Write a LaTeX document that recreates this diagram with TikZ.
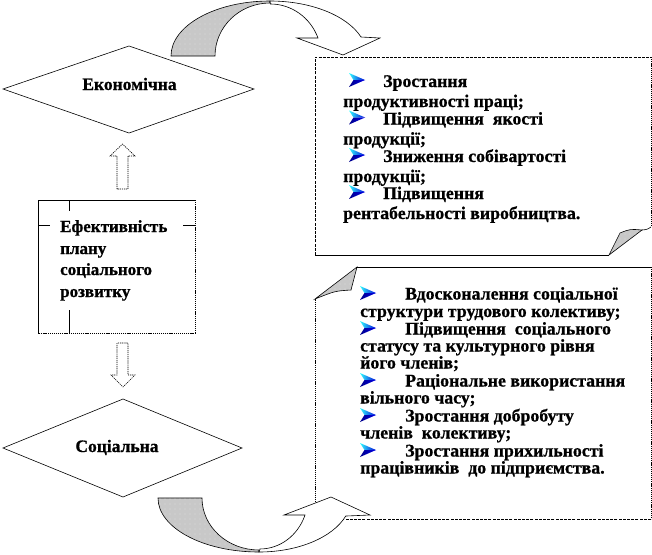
\documentclass[tikz,border=0pt]{standalone}
\usepackage{fontspec}
\setmainfont{Liberation Serif}[BoldFeatures={FakeBold=0.8}]
\usetikzlibrary{patterns.meta}
\definecolor{shadegray}{RGB}{200,200,200}
\tikzset{
  lbl/.style={font=\fontsize{17}{20}\selectfont\bfseries, inner sep=0pt, anchor=base west},
  blbl/.style={font=\fontsize{17.8}{20}\selectfont\bfseries, inner sep=0pt, anchor=base west},
  ctr/.style={font=\fontsize{17.5}{20}\selectfont\bfseries, inner sep=0pt, anchor=base},
  thin line/.style={line width=0.6pt, draw=black},
  dashline/.style={line width=0.6pt, dash pattern=on 3pt off 1.2pt},
  dotline/.style={line width=0.6pt, dash pattern=on 1.2pt off 0.9pt},
  ribbon/.style={fill=shadegray, postaction={pattern={Dots[distance=5pt, radius=0.45pt]}, pattern color=white}},
  bul/.pic={
    \shade[left color=cyan!80!white, right color=blue!85!black] (0,-7) -- (16,0) -- (4.5,0) -- cycle;
    \shade[left color=blue!55!black, right color=blue!90!black] (4.5,0) -- (16,0) -- (0,7) -- cycle;
  }
}
\begin{document}
\begin{tikzpicture}[x=1pt,y=-1pt]
\useasboundingbox (0,0) rectangle (652,554);
\fill[white] (0,0) rectangle (652,554);

% ---------- diamonds ----------
\draw[thin line] (3,89) -- (129,46) -- (254,89) -- (129,133) -- cycle;
\node[ctr] (eco) at (129.5,90) {Економічна};
\draw[thin line] (3,448) -- (123,399) -- (242,448) -- (123,497) -- cycle;
\node[ctr] (soc) at (117,452) {Соціальна};

% ---------- block arrows ----------
\draw[dotline] (117,189) -- (117,156) -- (110,156) -- (122.5,144) -- (135,156) -- (128,156) -- (128,189) -- cycle;
\draw[dotline] (117,343) -- (117,375) -- (111,375) -- (123,387) -- (135,375) -- (128,375) -- (128,343) -- cycle;

% ---------- central rectangle ----------
\draw[line width=0.8pt] (38,333) -- (38,200) -- (195,200);
\draw[dotline] (195,200) -- (195,333) -- (38,333);
\draw[line width=0.6pt] (69,200) -- (69,211) (69,310) -- (69,333) (38,225) -- (50,225) (183,225) -- (195,225);
\foreach \y/\t [count=\i] in {232/Ефективність, 254/плану, 275/соціального, 297/розвитку}
  \node[lbl] (r\i) at (60,\y) {\t};

% ---------- box 1 (economic) ----------
\draw[dashline] (315,255) -- (315,57) -- (651,57);
\draw[dotline] (651,57) -- (651,227);
\draw[line width=0.6pt] (315,255) -- (609,255);
\draw[line width=0.6pt] (651,227) .. controls (647,229.5) .. (642,230);
\filldraw[thin line, ribbon] (609,255) -- (620,233) .. controls (630,229) .. (642,230) -- cycle;
\foreach \x/\y/\t [count=\i] in {
  383/87/Зростання,
  343/107/продуктивності праці;,
  383/124.5/Підвищення~ якості,
  343/144.5/продукції;,
  383/162/Зниження собівартості,
  343/182/продукції;,
  383/199/Підвищення,
  343/219/рентабельності виробництва.}
  \node[blbl] (e\i) at (\x,\y) {\t};
\foreach \y in {87,124.5,162,199}
  \pic at (349,\y-7) {bul};

% ---------- box 2 (social) ----------
\draw[line width=0.6pt] (357,267) -- (651,267);
\draw[dotline] (651,267) -- (651,519);
\draw[dashline] (651,519) -- (315,519);
\draw[dotline] (315,519) -- (315,299);
\filldraw[thin line, ribbon] (357,267) .. controls (354,278) .. (351,290) .. controls (335,291) .. (315,299) -- cycle;
\foreach \x/\y/\t [count=\i] in {
  405/299.5/Вдосконалення соціальної,
  360/317/структури трудового колективу;,
  405/334.5/Підвищення~ соціального,
  360/351.5/статусу та культурного рівня,
  360/368.5/його членів;,
  405/386.5/Раціональне використання,
  360/403.5/вільного часу;,
  405/421.5/Зростання добробуту,
  360/438.5/членів~ колективу;,
  405/456.5/Зростання прихильності,
  360/473.5/працівників~ до підприємства.}
  \node[blbl] (s\i) at (\x,\y) {\t};
\foreach \y in {299.5,334.5,386.5,421.5,456.5}
  \pic at (360,\y-6.5) {bul};

% ---------- top curved arrow ----------
\filldraw[thin line, ribbon] (171,56) arc[start angle=180, end angle=270, x radius=99, y radius=55]
  -- (270,3) arc[start angle=270, end angle=180, x radius=55, y radius=53] -- cycle;
\filldraw[thin line, fill=white] (270,1) arc[start angle=270, end angle=339.8, x radius=97, y radius=55]
  -- (380,38) -- (343,55) -- (297,38) -- (318,38)
  arc[start angle=339, end angle=270, x radius=51, y radius=53] -- cycle;

% ---------- bottom curved arrow ----------
\filldraw[thin line, ribbon] (158,498) arc[start angle=180, end angle=90, x radius=101, y radius=54]
  -- (259,550) arc[start angle=90, end angle=180, x radius=57, y radius=52] -- cycle;
\filldraw[thin line, fill=white] (259,552) arc[start angle=90, end angle=19.5, x radius=92, y radius=54]
  -- (370,515) -- (331,497) -- (284,515) -- (305,515)
  arc[start angle=20.3, end angle=90, x radius=48, y radius=52] -- cycle;
\end{tikzpicture}
\end{document}
